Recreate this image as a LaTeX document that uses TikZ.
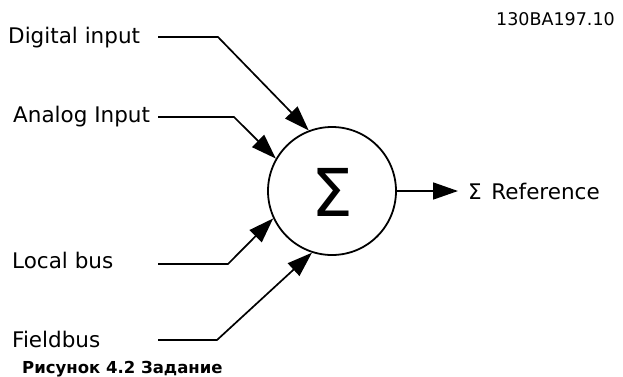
\documentclass[tikz,border=0pt]{standalone}
\usepackage{fontspec}
\setmainfont{DejaVu Sans}
\usetikzlibrary{arrows.meta}
\begin{document}
\begin{tikzpicture}[x=1pt,y=-1pt,
  lbl/.style={anchor=base west,inner sep=0pt,font=\fontsize{21.5}{24}\selectfont},
  conn/.style={line width=1.7pt,-{Triangle[length=25pt,width=17pt]}},
  line join=miter]
\useasboundingbox (0,0) rectangle (623,376);
\node[circle,draw,line width=1.8pt,minimum size=128pt,inner sep=0pt] (c) at (332,191) {};
\node[inner sep=0pt,font=\fontsize{66}{70}\selectfont,anchor=base] (sig) at (332,216) {Σ};
\node[lbl] (din) at (8,43) {Digital input};
\node[lbl] (ain) at (13,122) {Analog Input};
\node[lbl] (lb) at (12,268) {Local bus};
\node[lbl] (fb) at (12,347) {Fieldbus};
\node[lbl] (ref) at (468,199) {Σ\hspace{0.45em}Reference};
\node[anchor=base east,inner sep=0pt,font=\fontsize{17.5}{20}\selectfont] (code) at (615,25) {130BA197.10};
\node[anchor=base west,inner sep=0pt,font=\bfseries\fontsize{16.5}{19}\selectfont] (cap) at (22,373) {Рисунок 4.2 Задание};
\coordinate (d0) at (158,37); \coordinate (d1) at (218,37);
\coordinate (a0) at (158,117); \coordinate (a1) at (234,117);
\coordinate (l0) at (158,264); \coordinate (l1) at (228,264);
\coordinate (f0) at (158,340); \coordinate (f1) at (217,340);
\coordinate (o1) at (458,191);
\draw[conn] (d0) -- (d1) -- (c.111);
\draw[conn] (a0) -- (a1) -- (c.150);
\draw[conn] (l0) -- (l1) -- (c.205);
\draw[conn] (f0) -- (f1) -- (c.252);
\draw[conn] (c.east) -- (o1);
\end{tikzpicture}
\end{document}
